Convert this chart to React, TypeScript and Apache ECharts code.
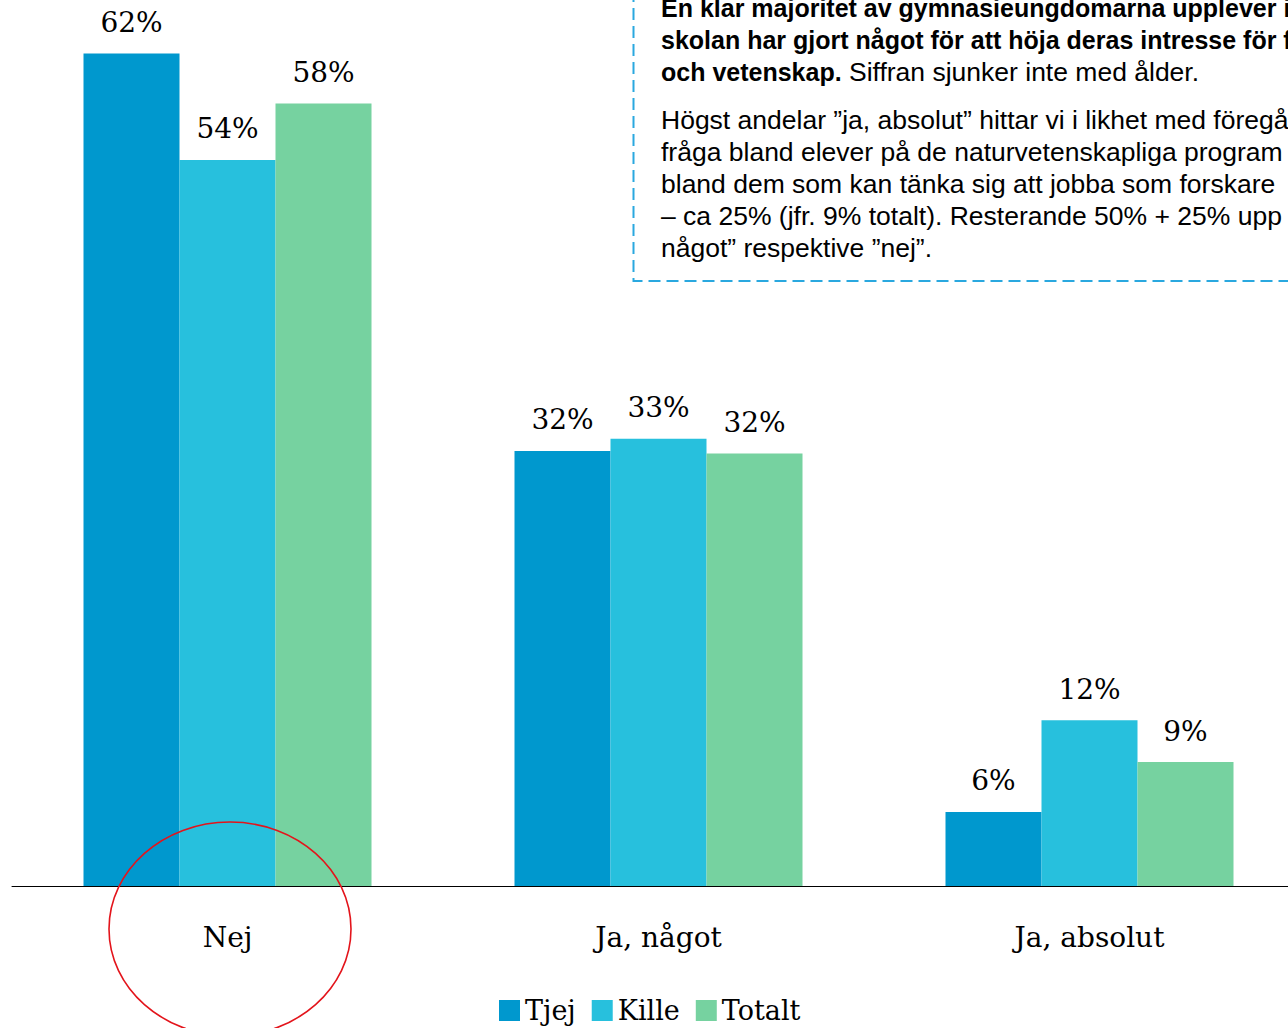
import React, { useEffect, useRef } from "react";
import * as echarts from "echarts";

const categories = ["Nej", "Ja, något", "Ja, absolut"];
const seriesNames = ["Tjej", "Kille", "Totalt"];
// bar heights as measured (percent)
const tjejValues = [61.8, 32.3, 5.5];
const killeValues = [53.9, 33.2, 12.3];
const totaltValues = [58.1, 32.1, 9.2];
// printed labels
const tjejLabels = [62, 32, 6];
const killeLabels = [54, 33, 12];
const totaltLabels = [58, 32, 9];
const colors = ["#0098CE", "#27C0DD", "#76D2A0"];

// note text (cut by the right edge in the reference)
const boldLines = [
  "En klar majoritet av gymnasieungdomarna upplever i",
  "skolan har gjort något för att höja deras intresse för fo",
];
const line3Bold = "och vetenskap.";
const line3Normal = " Siffran sjunker inte med ålder.";
const para2Lines = [
  "Högst andelar ”ja, absolut” hittar vi i likhet med föregå",
  "fråga bland elever på de naturvetenskapliga program",
  "bland dem som kan tänka sig att jobba som forskare",
  "– ca 25% (jfr. 9% totalt). Resterande 50% + 25% upp",
  "något” respektive ”nej”.",
];

const SERIF = "'DejaVu Serif', serif";
const SANS = "'Liberation Sans', Arial, sans-serif";

export default function App() {
  const ref = useRef<HTMLDivElement>(null);
  useEffect(() => {
    document.body.style.margin = "0";
    const chart = echarts.init(ref.current!, null, { renderer: "svg" });
    const valueSets = [tjejValues, killeValues, totaltValues];
    const labelSets = [tjejLabels, killeLabels, totaltLabels];
    const textX = 661;
    const centers = [8, 39.5, 71.5, 119.5, 151.5, 183.5, 215.5, 247.5];
    const graphics: any[] = [
      {
        type: "rect",
        shape: { x: 633.5, y: -20, width: 700, height: 301 },
        style: { fill: "none", stroke: "#2AA8DF", lineWidth: 2, lineDash: [12, 6] },
        z: 10,
      },
    ];
    boldLines.forEach((t, i) => {
      graphics.push({
        type: "text",
        x: textX,
        y: centers[i],
        style: { text: t, font: `bold 25px ${SANS}`, fill: "#000", verticalAlign: "middle" },
        z: 10,
      });
    });
    graphics.push({
      type: "text",
      x: textX,
      y: centers[2],
      style: {
        text: `{b|${line3Bold}}{n|${line3Normal}}`,
        verticalAlign: "middle",
        rich: {
          b: { fontFamily: SANS, fontSize: 25, fontWeight: "bold", fill: "#000" },
          n: { fontFamily: SANS, fontSize: 26.5, fill: "#000" },
        },
      },
      z: 10,
    });
    para2Lines.forEach((t, i) => {
      graphics.push({
        type: "text",
        x: textX,
        y: centers[3 + i],
        style: { text: t, font: `26.5px ${SANS}`, fill: "#000", verticalAlign: "middle" },
        z: 10,
      });
    });
    graphics.push({
      type: "ellipse",
      shape: { cx: 230, cy: 929, rx: 121, ry: 107 },
      style: { fill: "none", stroke: "#E3141B", lineWidth: 1.6 },
      z: 20,
    });

    chart.setOption({
      animation: false,
      backgroundColor: "#fff",
      grid: { left: 12, width: 1293, bottom: 142, height: 875.55 },
      xAxis: {
        type: "category",
        data: categories,
        axisLine: { show: true, lineStyle: { color: "#000", width: 1 } },
        axisTick: { show: false },
        axisLabel: { fontFamily: SERIF, fontSize: 28, color: "#000", margin: 37 },
      },
      yAxis: { type: "value", min: 0, max: 65, show: false, splitLine: { show: false } },
      legend: {
        left: 494,
        top: 992,
        itemWidth: 21,
        itemHeight: 21,
        itemGap: 16,
        icon: "rect",
        textStyle: { fontFamily: SERIF, fontSize: 27, color: "#000" },
        data: seriesNames,
      },
      series: seriesNames.map((name, s) => ({
        name,
        type: "bar",
        data: valueSets[s],
        barWidth: 96,
        barGap: "0%",
        itemStyle: { color: colors[s] },
        label: {
          show: true,
          position: "top",
          distance: 17,
          fontFamily: SERIF,
          fontSize: 28,
          color: "#000",
          formatter: (p: any) => `${labelSets[s][p.dataIndex]}%`,
        },
      })),
      graphic: graphics,
    });
    return () => chart.dispose();
  }, []);
  return (
    <div style={{ width: 1288, height: 1028, overflow: "hidden", position: "relative" }}>
      <div ref={ref} style={{ width: 1320, height: 1028 }} />
    </div>
  );
}
